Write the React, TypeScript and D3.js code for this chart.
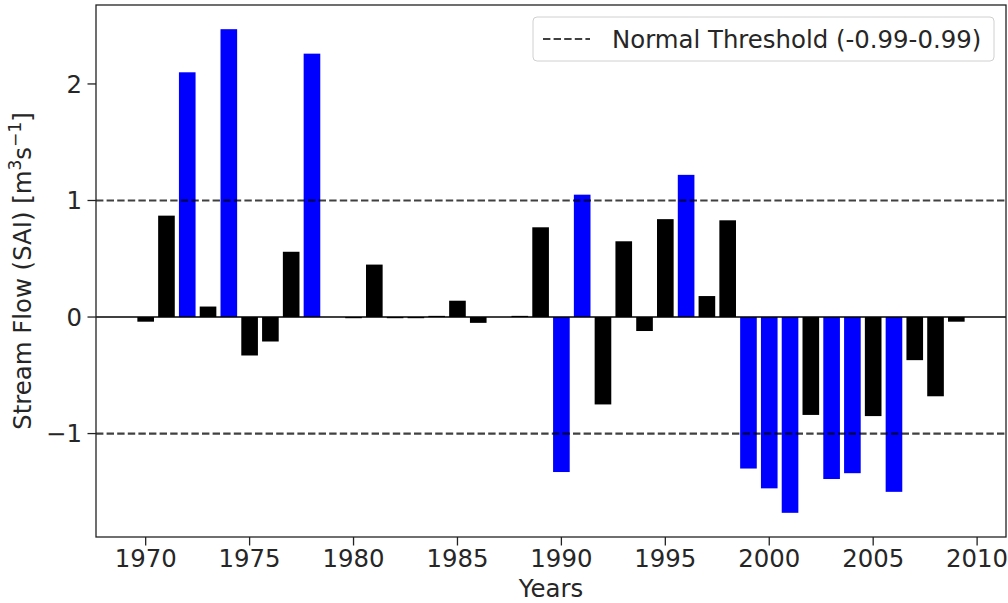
import React from "react";
import * as d3 from "d3";

const years = [
  1970, 1971, 1972, 1973, 1974, 1975, 1976, 1977, 1978, 1979,
  1980, 1981, 1982, 1983, 1984, 1985, 1986, 1987, 1988, 1989,
  1990, 1991, 1992, 1993, 1994, 1995, 1996, 1997, 1998, 1999,
  2000, 2001, 2002, 2003, 2004, 2005, 2006, 2007, 2008, 2009,
];
const sai = [
  -0.04, 0.87, 2.10, 0.09, 2.47, -0.33, -0.21, 0.56, 2.26, 0.0,
  -0.01, 0.45, -0.01, -0.01, 0.01, 0.14, -0.05, 0.0, 0.01, 0.77,
  -1.33, 1.05, -0.75, 0.65, -0.12, 0.84, 1.22, 0.18, 0.83, -1.30,
  -1.47, -1.68, -0.84, -1.39, -1.34, -0.85, -1.50, -0.37, -0.68, -0.04,
];
const xTicks = [1970, 1975, 1980, 1985, 1990, 1995, 2000, 2005, 2010];
const yTicks = [-1, 0, 1, 2];
const thresholds = [1, -1];
const legendLabel = "Normal Threshold (-0.99-0.99)";

const W = 1008;
const H = 603;
const L = 96, R = 1006, T = 5, B = 537;
const FONT = "DejaVu Sans";
const FS = 24.4;

export default function App() {
  const barW = 0.8;
  const xmin = d3.min(years)! - barW / 2;
  const xmax = d3.max(years)! + barW / 2;
  const xpad = (xmax - xmin) * 0.05;
  const x = d3.scaleLinear().domain([xmin - xpad, xmax + xpad]).range([L, R]);
  const ymin = Math.min(0, d3.min(sai)!);
  const ymax = Math.max(0, d3.max(sai)!);
  const ypad = (ymax - ymin) * 0.05;
  const y = d3.scaleLinear().domain([ymin - ypad, ymax + ypad]).range([B, T]);
  const bw = x(barW) - x(0);
  const fmtY = (v: number) => (v < 0 ? "\u2212" + Math.abs(v) : String(v));

  return (
    <svg width={W} height={H} style={{ position: "absolute", left: 0, top: 0, background: "#fff" }} fontFamily={FONT}>
      <rect x={0} y={0} width={W} height={H} fill="#fff" />
      {/* bars */}
      {years.map((yr, i) => {
        const v = sai[i];
        const y0 = y(Math.max(0, v));
        const y1 = y(Math.min(0, v));
        return (
          <rect
            key={yr}
            x={x(yr) - bw / 2}
            y={y0}
            width={bw}
            height={Math.max(0, y1 - y0)}
            fill={Math.abs(v) >= 1 ? "#0000ff" : "#000000"}
          />
        );
      })}
      {/* zero line */}
      <line x1={L} x2={R} y1={y(0)} y2={y(0)} stroke="#000" strokeWidth={1.6} />
      {/* thresholds */}
      {thresholds.map((t) => (
        <line key={t} x1={L} x2={R} y1={y(t)} y2={y(t)} stroke="#000" strokeOpacity={0.75} strokeWidth={2.2} strokeDasharray="7.4,3.2" />
      ))}
      {/* frame */}
      <rect x={L} y={T} width={R - L} height={B - T} fill="none" stroke="#222" strokeWidth={1.3} />
      {/* x ticks */}
      {xTicks.map((t) => (
        <g key={t}>
          <line x1={x(t)} x2={x(t)} y1={B} y2={B + 8.5} stroke="#222" strokeWidth={1.3} />
          <text x={x(t)} y={567} textAnchor="middle" fontSize={FS} fill="#262626">{t}</text>
        </g>
      ))}
      {/* y ticks */}
      {yTicks.map((t) => (
        <g key={t}>
          <line x1={L - 8.5} x2={L} y1={y(t)} y2={y(t)} stroke="#222" strokeWidth={1.3} />
          <text x={82} y={y(t)} dy="0.36em" textAnchor="end" fontSize={FS} fill="#262626">{fmtY(t)}</text>
        </g>
      ))}
      {/* axis labels */}
      <text x={(L + R) / 2} y={597} textAnchor="middle" fontSize={FS} fill="#262626">Years</text>
      <text transform={`translate(31,${(T + B) / 2}) rotate(-90)`} textAnchor="middle" fontSize={FS} fill="#262626">
        Stream Flow (SAI) [m
        <tspan baselineShift="super" fontSize={FS * 0.7}>3</tspan>
        s
        <tspan baselineShift="super" fontSize={FS * 0.7}>{"\u22121"}</tspan>
        ]
      </text>
      {/* legend */}
      <rect x={533} y={17} width={461} height={44} rx={4} fill="#fff" fillOpacity={0.8} stroke="#d0d0d0" strokeWidth={1} />
      <line x1={543} x2={590} y1={39} y2={39} stroke="#000" strokeOpacity={0.75} strokeWidth={2.2} strokeDasharray="7.4,3.2" />
      <text x={612} y={48} fontSize={FS} fill="#262626">{legendLabel}</text>
    </svg>
  );
}
